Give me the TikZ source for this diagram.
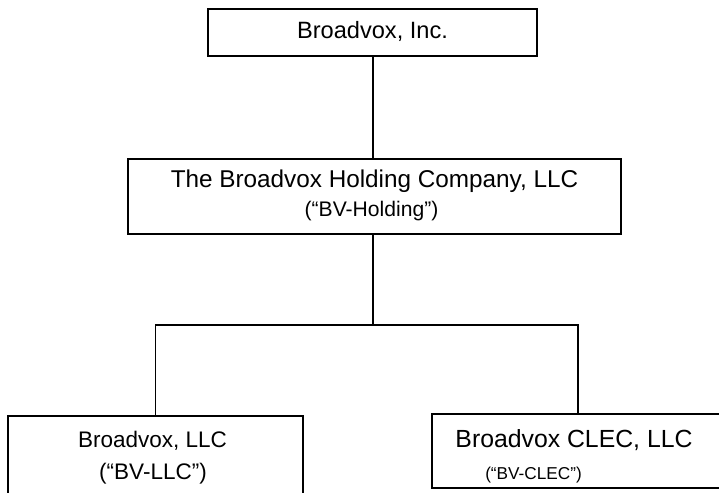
\documentclass[tikz,border=0pt]{standalone}
\usepackage{fontspec}
\setmainfont{Liberation Sans}
\begin{document}
\begin{tikzpicture}[x=1pt,y=-1pt,
  box/.style={draw=black,line width=1.7pt,rectangle,inner sep=0pt,fill=none},
  conn/.style={draw=black,line width=1.7pt},
  txt/.style={anchor=base,inner sep=0pt,text=black}]
\clip (0,0) rectangle (719,492);
\fill[white] (0,0) rectangle (719,492);
% boxes
\node[box,minimum width=329pt,minimum height=47pt] (top) at (372.5,32.5) {};
\node[box,minimum width=493pt,minimum height=75pt] (mid) at (374.5,196.5) {};
\node[box,minimum width=295pt,minimum height=84pt] (left) at (155.5,458) {};
\node[box,minimum width=292pt,minimum height=74pt] (right) at (578,451) {};
% texts
\node[txt,font=\fontsize{23.6}{28}\selectfont] (ttop) at (372.5,39) {Broadvox, Inc.};
\node[txt,font=\fontsize{24.3}{28}\selectfont] (tmid1) at (374.5,187) {The Broadvox Holding Company, LLC};
\node[txt,font=\fontsize{21.1}{25}\selectfont] (tmid2) at (371.5,216) {(“BV-Holding”)};
\node[txt,font=\fontsize{22.5}{27}\selectfont] (tleft1) at (152.5,447) {Broadvox, LLC};
\node[txt,font=\fontsize{22.5}{27}\selectfont] (tleft2) at (153,479) {(“BV-LLC”)};
\node[txt,font=\fontsize{24.8}{29}\selectfont] (tright1) at (574,447) {Broadvox CLEC, LLC};
\node[txt,font=\fontsize{17.2}{21}\selectfont] (tright2) at (533.5,479) {(“BV-CLEC”)};
% connectors
\coordinate (bus) at (373,325);
\draw[conn] (top.south -| 373,0) -- (mid.north -| 373,0);
\draw[conn] (mid.south -| bus) -- (bus);
\draw[conn,line cap=rect] (bus -| left.north) -- (bus -| right.north);
\draw[conn] (bus -| left.north) -- (left.north);
\draw[conn] (bus -| right.north) -- (right.north);
\end{tikzpicture}
\end{document}
